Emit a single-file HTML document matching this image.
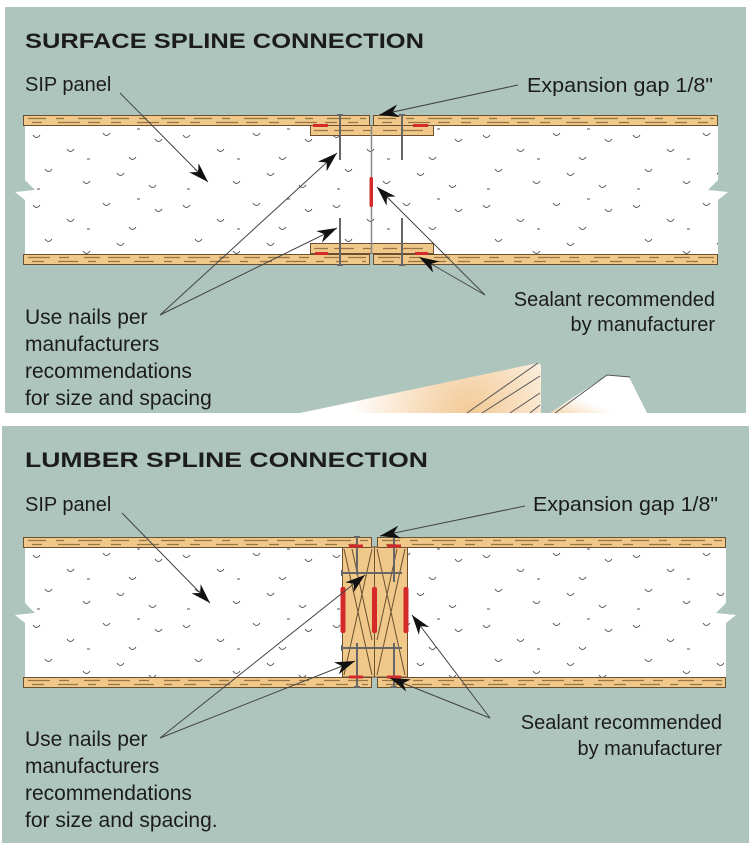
<!DOCTYPE html>
<html><head><meta charset="utf-8"><style>
html,body{margin:0;padding:0;background:#fff;}
svg{display:block;}
text{font-family:"Liberation Sans",Arial,sans-serif;fill:#1c1c1c;}
</style></head><body>
<svg width="750" height="851" viewBox="0 0 750 851" xmlns="http://www.w3.org/2000/svg">
<defs>
<marker id="ah" markerWidth="22" markerHeight="13" refX="20" refY="6.5" orient="auto" markerUnits="userSpaceOnUse">
<path d="M0,0 L20,6.5 L0,13 L6,6.5 z" fill="#111"/>
</marker>
<pattern id="foam" x="25" y="125" width="150" height="70" patternUnits="userSpaceOnUse">
<g fill="none" stroke="#555" stroke-width="1">
<path d="M8,10 q3.5,5 7,0"/><path d="M42,24 q3.5,5 7,0"/><path d="M78,8 q3.5,5 7,0"/>
<path d="M104,32 q3.5,5 7,0"/><path d="M130,14 q3.5,5 7,0"/><path d="M20,44 q3.5,5 7,0"/>
<path d="M58,56 q3.5,5 7,0"/><path d="M92,48 q3.5,5 7,0"/><path d="M124,60 q3.5,5 7,0"/>
<path d="M62,34 h3"/><path d="M112,4 h3"/><path d="M12,64 h3"/>
</g>
</pattern>
<radialGradient id="g1" cx="470" cy="415" r="120" gradientUnits="userSpaceOnUse">
<stop offset="0" stop-color="#f2c995"/><stop offset="0.5" stop-color="#f9e2c6"/><stop offset="1" stop-color="#fff"/>
</radialGradient>
<linearGradient id="g2" x1="0" y1="1" x2="1" y2="0">
<stop offset="0" stop-color="#f5d6ad"/><stop offset="0.35" stop-color="#fff"/><stop offset="1" stop-color="#fff"/>
</linearGradient>
</defs>

<!-- ===== TOP PANEL ===== -->
<rect x="5" y="7" width="741" height="406" fill="#adc5bc"/>

<text x="25" y="48" font-size="21" font-weight="bold" textLength="399" lengthAdjust="spacingAndGlyphs">SURFACE SPLINE CONNECTION</text>
<text x="25" y="91" font-size="20">SIP panel</text>
<text x="527" y="92" font-size="20" textLength="186" lengthAdjust="spacingAndGlyphs">Expansion gap 1/8"</text>
<text x="25" y="324" font-size="21">Use nails per</text>
<text x="25" y="351" font-size="21">manufacturers</text>
<text x="25" y="378" font-size="21">recommendations</text>
<text x="25" y="405" font-size="21">for size and spacing</text>
<text x="715" y="306" font-size="20" text-anchor="end">Sealant recommended</text>
<text x="715" y="331" font-size="20" text-anchor="end">by manufacturer</text>

<!-- foam -->
<path d="M25,125 L718,125 L718,180 L708,190 L728,192 L718,200 L718,254 L25,254 L25,200 L15,192 L35,190 L25,180 Z" fill="#fff"/>
<path d="M25,125 L718,125 L718,180 L708,190 L728,192 L718,200 L718,254 L25,254 L25,200 L15,192 L35,190 L25,180 Z" fill="url(#foam)"/>

<!-- splines -->
<g fill="#efc88a" stroke="#6b5030" stroke-width="1">
<rect x="310.5" y="125.5" width="123" height="10"/>
<rect x="310.5" y="243.5" width="123" height="10"/>
</g>
<g stroke="#9a7444" stroke-width="1.3" stroke-dasharray="14 6 20 9 8 12">
<line x1="314" y1="130.5" x2="430" y2="130.5"/>
<line x1="314" y1="248.5" x2="430" y2="248.5"/>
</g>
<!-- skins -->
<g fill="#efc88a" stroke="#6b5030" stroke-width="1">
<rect x="23.5" y="115.5" width="346" height="10"/>
<rect x="373.5" y="115.5" width="344" height="10"/>
<rect x="23.5" y="254.5" width="346" height="10"/>
<rect x="373.5" y="254.5" width="344" height="10"/>
</g>
<g stroke="#9a7444" stroke-width="1.3">
<line x1="28" y1="118.5" x2="366" y2="118.5" stroke-dasharray="18 10 8 14 24 9"/>
<line x1="32" y1="122.5" x2="366" y2="122.5" stroke-dasharray="10 16 22 8 12 11"/>
<line x1="378" y1="118.5" x2="714" y2="118.5" stroke-dasharray="18 10 8 14 24 9"/>
<line x1="382" y1="122.5" x2="714" y2="122.5" stroke-dasharray="10 16 22 8 12 11"/>
<line x1="28" y1="257.5" x2="366" y2="257.5" stroke-dasharray="22 9 10 15 16 8"/>
<line x1="32" y1="261.5" x2="366" y2="261.5" stroke-dasharray="12 14 20 10 8 12"/>
<line x1="378" y1="257.5" x2="714" y2="257.5" stroke-dasharray="22 9 10 15 16 8"/>
<line x1="382" y1="261.5" x2="714" y2="261.5" stroke-dasharray="12 14 20 10 8 12"/>
</g>
<!-- center gap line -->
<line x1="371.5" y1="125" x2="371.5" y2="254" stroke="#8a8a8a" stroke-width="1.5"/>
<!-- nails -->
<g stroke="#666" stroke-width="2">
<line x1="340" y1="115" x2="340" y2="160"/>
<line x1="402" y1="115" x2="402" y2="160"/>
<line x1="340" y1="218" x2="340" y2="265"/>
<line x1="402" y1="218" x2="402" y2="265"/>
<line x1="337" y1="115" x2="343" y2="115"/>
<line x1="399" y1="115" x2="405" y2="115"/>
<line x1="337" y1="265" x2="343" y2="265"/>
<line x1="399" y1="265" x2="405" y2="265"/>
</g>
<!-- sealant -->
<g fill="#d42a2a">
<rect x="313" y="124" width="15" height="3"/>
<rect x="413" y="124" width="15" height="3"/>
<rect x="315" y="252" width="13" height="3"/>
<rect x="415" y="252" width="13" height="3"/>
<rect x="369.5" y="177" width="3.5" height="30" rx="1.5"/>
</g>
<!-- arrows -->
<g stroke="#444" stroke-width="1" marker-end="url(#ah)">
<line x1="120" y1="93" x2="208" y2="182"/>
<line x1="518" y1="85" x2="379" y2="115"/>
<line x1="160" y1="315" x2="337" y2="153"/>
<line x1="160" y1="315" x2="337" y2="228"/>
<line x1="485" y1="295" x2="377" y2="187"/>
<line x1="485" y1="295" x2="419" y2="257"/>
</g>

<!-- stray shapes at bottom of top panel -->
<polygon points="300,413 538,363 541,365 541,413" fill="url(#g1)"/>
<g stroke="#555" stroke-width="1">
<line x1="467" y1="413" x2="538" y2="363"/>
<line x1="482" y1="413" x2="540" y2="376"/>
<line x1="510" y1="413" x2="540" y2="393"/>
<line x1="530" y1="413" x2="540" y2="405"/>
</g>
<polygon points="550,413 607,375 629,377 647,413" fill="url(#g2)"/>
<polyline points="555,413 607,375 630,377" fill="none" stroke="#555" stroke-width="1"/>

<!-- ===== BOTTOM PANEL ===== -->
<rect x="2" y="426" width="747" height="417" fill="#adc5bc"/>

<text x="25" y="467" font-size="21" font-weight="bold" textLength="403" lengthAdjust="spacingAndGlyphs">LUMBER SPLINE CONNECTION</text>
<text x="25" y="511" font-size="20">SIP panel</text>
<text x="533" y="511" font-size="20" textLength="185" lengthAdjust="spacingAndGlyphs">Expansion gap 1/8"</text>
<text x="25" y="746" font-size="21">Use nails per</text>
<text x="25" y="773" font-size="21">manufacturers</text>
<text x="25" y="800" font-size="21">recommendations</text>
<text x="25" y="827" font-size="21">for size and spacing.</text>
<text x="722" y="729" font-size="20" text-anchor="end">Sealant recommended</text>
<text x="722" y="755" font-size="20" text-anchor="end">by manufacturer</text>

<!-- foam -->
<path d="M25,547 L726,547 L726,603 L716,613 L736,615 L726,623 L726,677 L25,677 L25,623 L15,615 L35,613 L25,603 Z" fill="#fff"/>
<path d="M25,547 L726,547 L726,603 L716,613 L736,615 L726,623 L726,677 L25,677 L25,623 L15,615 L35,613 L25,603 Z" fill="url(#foam)"/>

<!-- lumber spline -->
<rect x="342.5" y="547" width="65" height="130" fill="#efc88a" stroke="#6b5030" stroke-width="1"/>
<g stroke="#6b5030" stroke-width="1">
<line x1="374.5" y1="547" x2="374.5" y2="677"/>
<line x1="344" y1="549" x2="372" y2="675"/>
<line x1="372" y1="549" x2="344" y2="675"/>
<line x1="377" y1="549" x2="405" y2="675"/>
<line x1="405" y1="549" x2="377" y2="675"/>
<line x1="352" y1="549" x2="372" y2="640"/>
<line x1="397" y1="549" x2="377" y2="640"/>
</g>
<!-- skins -->
<g fill="#efc88a" stroke="#6b5030" stroke-width="1">
<rect x="23.5" y="537.5" width="348" height="10"/>
<rect x="377.5" y="537.5" width="348" height="10"/>
<rect x="23.5" y="677.5" width="348" height="10"/>
<rect x="377.5" y="677.5" width="348" height="10"/>
</g>
<g stroke="#9a7444" stroke-width="1.3">
<line x1="28" y1="540.5" x2="368" y2="540.5" stroke-dasharray="18 10 8 14 24 9"/>
<line x1="32" y1="544.5" x2="368" y2="544.5" stroke-dasharray="10 16 22 8 12 11"/>
<line x1="382" y1="540.5" x2="722" y2="540.5" stroke-dasharray="18 10 8 14 24 9"/>
<line x1="386" y1="544.5" x2="722" y2="544.5" stroke-dasharray="10 16 22 8 12 11"/>
<line x1="28" y1="680.5" x2="368" y2="680.5" stroke-dasharray="22 9 10 15 16 8"/>
<line x1="32" y1="684.5" x2="368" y2="684.5" stroke-dasharray="12 14 20 10 8 12"/>
<line x1="382" y1="680.5" x2="722" y2="680.5" stroke-dasharray="22 9 10 15 16 8"/>
<line x1="386" y1="684.5" x2="722" y2="684.5" stroke-dasharray="12 14 20 10 8 12"/>
</g>
<!-- nails -->
<g stroke="#666" stroke-width="2">
<line x1="342" y1="573" x2="402" y2="573"/>
<line x1="342" y1="648" x2="402" y2="648"/>
<line x1="342" y1="570" x2="342" y2="576"/>
<line x1="342" y1="645" x2="342" y2="651"/>
<line x1="357" y1="537" x2="357" y2="575"/>
<line x1="394" y1="537" x2="394" y2="582"/>
<line x1="357" y1="643" x2="357" y2="687"/>
<line x1="394" y1="643" x2="394" y2="687"/>
<line x1="354" y1="537" x2="360" y2="537"/>
<line x1="391" y1="537" x2="397" y2="537"/>
<line x1="354" y1="687" x2="360" y2="687"/>
<line x1="391" y1="687" x2="397" y2="687"/>
</g>
<!-- sealant -->
<g fill="#d42a2a">
<rect x="340.5" y="587" width="5" height="46" rx="2"/>
<rect x="372" y="587" width="5" height="46" rx="2"/>
<rect x="403.5" y="587" width="5" height="46" rx="2"/>
<rect x="349" y="544.5" width="14" height="3"/>
<rect x="387" y="544.5" width="14" height="3"/>
<rect x="349" y="675.5" width="14" height="3"/>
<rect x="387" y="675.5" width="14" height="3"/>
</g>
<!-- arrows -->
<g stroke="#444" stroke-width="1" marker-end="url(#ah)">
<line x1="122" y1="513" x2="210" y2="603"/>
<line x1="525" y1="506" x2="380" y2="536"/>
<line x1="160" y1="738" x2="365" y2="575"/>
<line x1="160" y1="738" x2="355" y2="661"/>
<line x1="490" y1="718" x2="412" y2="615"/>
<line x1="490" y1="718" x2="390" y2="678"/>
</g>
</svg>
</body></html>
